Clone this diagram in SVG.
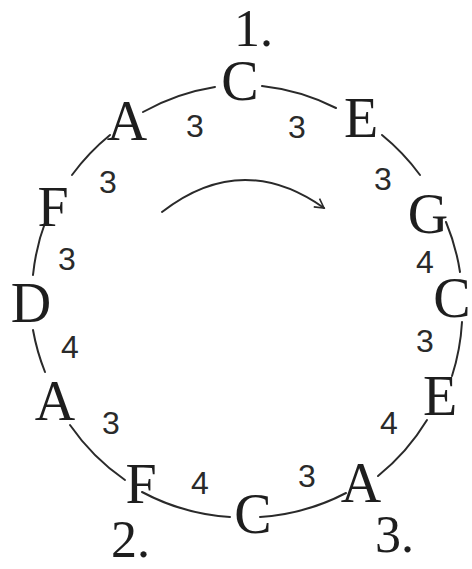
<svg xmlns="http://www.w3.org/2000/svg" width="472" height="569" viewBox="0 0 472 569">
<defs>
<style>
.n{font-family:"Liberation Serif","DejaVu Serif",serif;font-size:56px;fill:#1e1e1e;text-anchor:middle}
.l{font-family:"Liberation Serif","DejaVu Serif",serif;font-size:52px;fill:#1e1e1e}
.d{font-family:"Liberation Sans","DejaVu Sans",sans-serif;font-size:32px;fill:#2a2a2a;text-anchor:middle}
.c{fill:none;stroke:#2a2a2a;stroke-width:2;stroke-linecap:round}
</style>
<marker id="ah" viewBox="0 0 12 12" refX="10" refY="6" markerWidth="12" markerHeight="12" markerUnits="userSpaceOnUse" orient="auto">
<path d="M1,1 L10,6 L1,11" fill="none" stroke="#2a2a2a" stroke-width="1.6"/>
</marker>
</defs>
<rect width="472" height="569" fill="#ffffff"/>
<g id="connectors">
<path class="c" d="M143,112 A216,216 0 0 1 215,87"/>
<path class="c" d="M262,86 A216,216 0 0 1 336,108"/>
<path class="c" d="M382,135 A216,216 0 0 1 420,175"/>
<path class="c" d="M446,222 A216,216 0 0 1 460,272"/>
<path class="c" d="M462,322 A216,216 0 0 1 452,376"/>
<path class="c" d="M427,420 A216,216 0 0 1 378,476"/>
<path class="c" d="M346,493 A216,216 0 0 1 260,517"/>
<path class="c" d="M230,517 A216,216 0 0 1 142,492"/>
<path class="c" d="M125,480 A216,216 0 0 1 70,425"/>
<path class="c" d="M45,372 A216,216 0 0 1 33,330"/>
<path class="c" d="M33,275 A216,216 0 0 1 46,220"/>
<path class="c" d="M72,175 A216,216 0 0 1 110,135"/>
<path id="direction" class="c" d="M162,212 Q242,150 324,208" marker-end="url(#ah)"/>
</g>
<g id="node-c1"><text class="n" x="240" y="100">C</text></g>
<g id="node-e1"><text class="n" x="361" y="137">E</text></g>
<g id="node-g"><text class="n" x="428" y="233">G</text></g>
<g id="node-c2"><text class="n" x="452" y="317">C</text></g>
<g id="node-e2"><text class="n" x="440" y="415">E</text></g>
<g id="node-a3"><text class="n" x="361" y="502">A</text></g>
<g id="node-c3"><text class="n" x="253" y="533">C</text></g>
<g id="node-f2"><text class="n" x="141" y="503">F</text></g>
<g id="node-a2"><text class="n" x="55" y="420">A</text></g>
<g id="node-d"><text class="n" x="31" y="322">D</text></g>
<g id="node-f1"><text class="n" x="53" y="226">F</text></g>
<g id="node-a1"><text class="n" x="127" y="140">A</text></g>
<g id="labels">
<text class="l" x="234" y="46" font-size="46">1.</text>
<text class="l" x="111" y="557" font-size="46">2.</text>
<text class="l" x="375" y="552">3.</text>
</g>
<g id="intervals">
<text class="d" x="195" y="137">3</text>
<text class="d" x="297" y="138">3</text>
<text class="d" x="108" y="193">3</text>
<text class="d" x="383" y="190">3</text>
<text class="d" x="67" y="270">3</text>
<text class="d" x="425" y="273">4</text>
<text class="d" x="70" y="358">4</text>
<text class="d" x="425" y="352">3</text>
<text class="d" x="111" y="434">3</text>
<text class="d" x="389" y="434">4</text>
<text class="d" x="200" y="494">4</text>
<text class="d" x="307" y="487">3</text>
</g>
</svg>
